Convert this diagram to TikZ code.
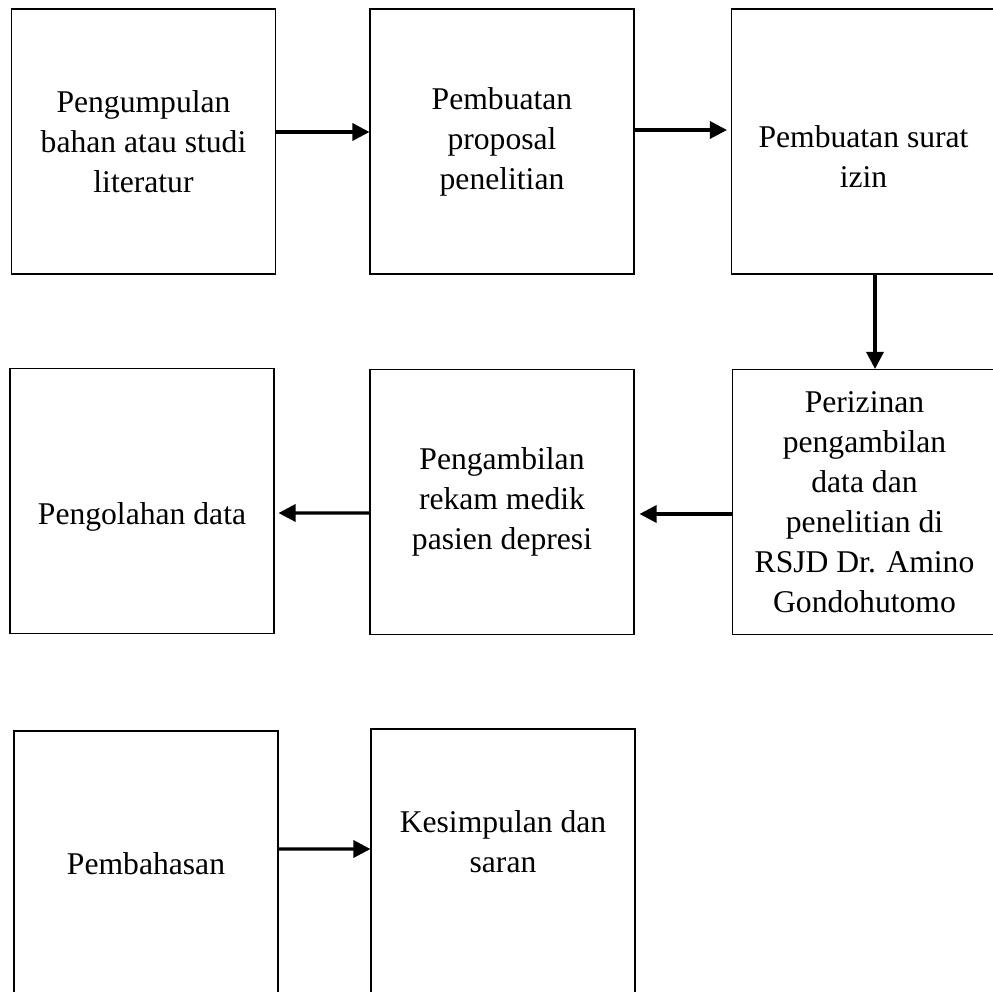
\documentclass[tikz,border=0pt]{standalone}
\usepackage{fontspec}
\setmainfont{Liberation Serif}
\usetikzlibrary{positioning}
\usetikzlibrary{arrows.meta}

\tikzset{
  txt/.style={align=center, font=\fontsize{18pt}{22.8pt}\selectfont},
  box/.style={draw, line width=0.6pt, minimum width=5.28cm, minimum height=5.3cm, txt},
  flow/.style={line width=1.8pt, -{Triangle[length=0.34cm,width=0.34cm]}}
}

\begin{document}
\begin{tikzpicture}
          \useasboundingbox (0,0) rectangle (19.86,-19.84);

          \node[box] (studi) at (2.87,-2.83) {Pengumpulan\\bahan atau studi\\literatur};
          \node[box] (proposal) at (10.04,-2.83) {Pembuatan\\proposal\\penelitian};
          \node[box, label={[txt, yshift=-0.3cm]center:Pembuatan surat\\izin}] (izin) at (17.27,-2.83) {};

          \node[box] (perizinan) at (17.29,-10.04) {Perizinan\\pengambilan\\data dan\\penelitian di\\RSJD Dr. Amino\\Gondohutomo};
          \node[box] (rekam) at (10.04,-10.04) {Pengambilan\\rekam medik\\pasien depresi};
          \node[box, label={[txt, yshift=-0.32cm]center:Pengolahan data}] (olah) at (2.84,-10.02) {};

          \node[box] (bahas) at (2.92,-17.27) {Pembahasan};
          \node[box, label={[txt, yshift=0.4cm]center:Kesimpulan dan\\saran}] (simpulan) at (10.06,-17.23) {};

          \draw[flow] ([yshift=0.19cm]studi.east) -- ([yshift=0.19cm]proposal.west);
          \draw[flow, shorten >=0.08cm] ([yshift=0.23cm]proposal.east) -- ([yshift=0.23cm]izin.west);
          \draw[flow] ([xshift=0.23cm]izin.south) -- ([xshift=0.21cm]perizinan.north);
          \draw[flow, shorten >=0.1cm] ([yshift=-0.24cm]perizinan.west) -- ([yshift=-0.24cm]rekam.east);
          \draw[flow, shorten >=0.08cm] ([yshift=-0.22cm]rekam.west) -- ([yshift=-0.24cm]olah.east);
          \draw[flow] ([yshift=0.29cm]bahas.east) -- ([yshift=0.25cm]simpulan.west);
        \end{tikzpicture}
\end{document}
